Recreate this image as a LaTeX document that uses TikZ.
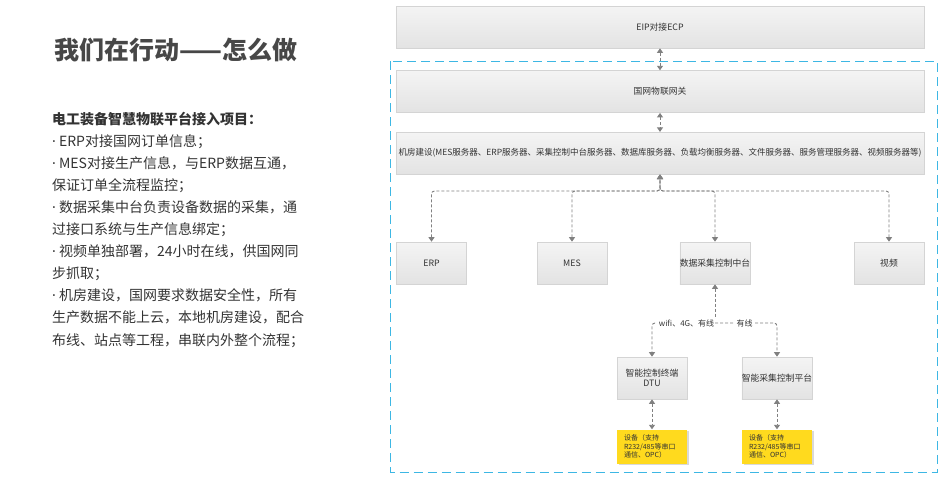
\documentclass[tikz,border=0pt]{standalone}
\usepackage{fontspec}
\setmainfont{Noto Sans CJK SC}
\newfontfamily\latin{Noto Sans}
\usetikzlibrary{arrows.meta,shadows,positioning}
\definecolor{boxtop}{HTML}{F4F4F4}
\definecolor{boxbot}{HTML}{E3E3E3}
\definecolor{boxline}{HTML}{D4D4D4}
\definecolor{ink}{HTML}{333333}
\definecolor{linkc}{HTML}{808080}
\definecolor{zonec}{HTML}{3DB7E4}
\definecolor{devc}{HTML}{FFDA1E}
\newcommand{\dotitem}{{\latin ·} }
\begin{document}
\begin{tikzpicture}[x=1pt, y=-1pt,
    main/.style = {draw=boxline, line width=0.6pt, top color=boxtop, bottom color=boxbot, text=ink,
      minimum width=70pt, minimum height=42pt, inner xsep=0pt, font=\fontsize{8.8}{10.5}\selectfont},
    wide/.style = {main, minimum width=528pt},
    dev/.style = {fill=devc, text=ink, text width=56pt, inner xsep=7pt, minimum height=34pt, align=left,
      font=\fontsize{7}{8.7}\selectfont, drop shadow={opacity=0.3, shadow xshift=1.5pt, shadow yshift=-1.5pt}},
    link/.style = {draw=linkc, line width=0.9pt, dash pattern=on 3pt off 2pt, rounded corners=3pt,
      >={Triangle[width=6pt,length=4.5pt]}},
    lbl/.style = {fill=white, text=ink, inner sep=2pt, font=\fontsize{8}{9}\selectfont}]
    \useasboundingbox (0,0) rectangle (946,480);
    % left text
    \node[anchor=west, text=ink!90, font=\fontsize{25}{28}\selectfont\bfseries] (t) at (51,50) {我们在行动——怎么做};
    \node[anchor=north west, inner sep=0pt, align=left, text=ink, font=\fontsize{14}{22.1}\selectfont] (b) at (52,111.5) {%
      {\bfseries 电工装备智慧物联平台接入项目：}\\
      \dotitem ERP对接国网订单信息；\\
      \dotitem MES对接生产信息，与ERP数据互通，\\
      保证订单全流程监控；\\
      \dotitem 数据采集中台负责设备数据的采集，通\\
      过接口系统与生产信息绑定；\\
      \dotitem 视频单独部署，24小时在线，供国网同\\
      步抓取；\\
      \dotitem 机房建设，国网要求数据安全性，所有\\
      生产数据不能上云，本地机房建设，配合\\
      布线、站点等工程，串联内外整个流程；};
    % diagram
    \draw[draw=zonec, line width=0.9pt, dash pattern=on 9pt off 5pt] (390.5,61) rectangle (937,472);
    \node[wide] (1) at (660,27) {EIP对接ECP};
    \node[wide] (2) [below=22pt of 1] {国网物联网关};
    \node[wide, font=\fontsize{8.5}{10}\selectfont] (3) [below=19pt of 2] {机房建设(MES服务器、ERP服务器、采集控制中台服务器、数据库服务器、负载均衡服务器、文件服务器、服务管理服务器、视频服务器等)};
    \node[main] (4) at (431.5,263) {ERP};
    \node[main] (5) at (572,263) {MES};
    \node[main] (6) at (715,263) {数据采集控制中台};
    \node[main] (7) at (889,263) {视频};
    \node[main, align=center] (8) at (652,378) {智能控制终端\\DTU};
    \node[main] (9) at (777,378) {智能采集控制平台};
    \node[dev] (10) [below=30pt of 8] {设备（支持\\R232/485等串口\\通信、OPC）};
    \node[dev] (11) [below=30pt of 9] {设备（支持\\R232/485等串口\\通信、OPC）};
    \coordinate (j) at (660,191);
    \coordinate (s) at (715,323);
    \path
      (1) edge[link, <->] (2) (2) edge[link, <->] (3)
      (8) edge[link, <->] (10) (9) edge[link, <->] (11);
    \draw[link, <->] (4.north) |- (j) -- (3.south);
    \draw[link, <->] (5.north) |- (j) -- (3.south);
    \draw[link, <->] (6.north) |- (j) -- (3.south);
    \draw[link, <->] (7.north) |- (j) -- (3.south);
    \draw[link, <-] (6.south) -- (s);
    \draw[link, ->] (s) -| node[lbl, pos=0.226] {wifi、4G、有线} (8.north);
    \draw[link, ->] (s) -| node[lbl, pos=0.238] {有线} (9.north);
\end{tikzpicture}
\end{document}
